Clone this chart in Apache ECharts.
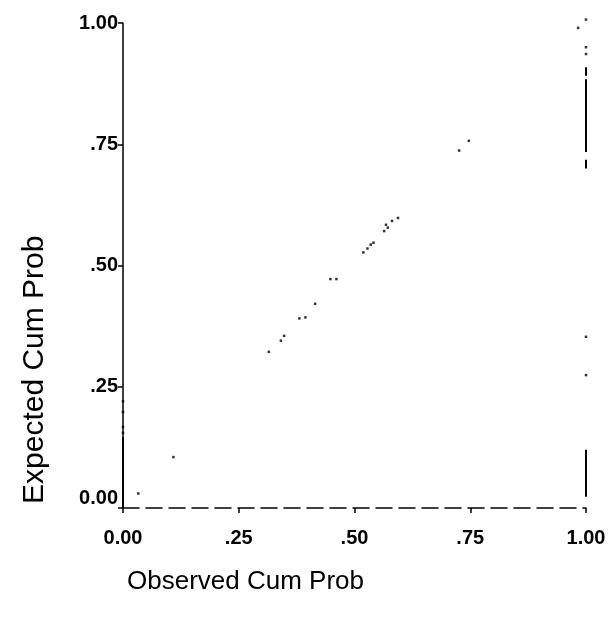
<!DOCTYPE html>
<html>
<head>
<meta charset="utf-8">
<script src="https://cdn.jsdelivr.net/npm/echarts@6/dist/echarts.min.js"></script>
<style>
html,body{margin:0;padding:0;background:#fff;}
#chart{width:611px;height:624px;}
</style>
</head>
<body>
<div id="chart"></div>
<script>
// Tick values and labels
const tickValues = [0, 0.25, 0.5, 0.75, 1];
const tickLabels = ['0.00', '.25', '.50', '.75', '1.00'];

// Observed vs expected cumulative probabilities (single points)
const diagonalPoints = [
  [0.033, 0.030], [0.109, 0.105],
  [0.315, 0.322], [0.341, 0.345], [0.348, 0.355], [0.381, 0.391], [0.394, 0.393],
  [0.415, 0.421], [0.448, 0.472], [0.461, 0.472], [0.519, 0.527], [0.528, 0.535],
  [0.535, 0.543], [0.541, 0.547], [0.564, 0.571], [0.568, 0.584], [0.572, 0.578],
  [0.581, 0.592], [0.594, 0.598], [0.726, 0.737], [0.747, 0.757]
];
const leftColumnPoints = [[0, 0.220], [0, 0.198], [0, 0.167], [0, 0.155]];
const rightColumnPoints = [[1, 1.007], [0.983, 0.990], [1, 0.950], [1, 0.936], [1, 0.353], [1, 0.274]];

// Dense runs of tied points drawn as vertical runs: [x, yFrom, yTo]
const pointRuns = [
  [0, 0.146, 0.0],
  [1, 0.909, 0.891],
  [1, 0.884, 0.734],
  [1, 0.718, 0.700],
  [1, 0.120, 0.023]
];

const FONT = 'Liberation Sans, Arial, sans-serif';
const chart = echarts.init(document.getElementById('chart'));

function fmt(v) {
  const i = tickValues.findIndex(t => Math.abs(t - v) < 1e-9);
  return i >= 0 ? tickLabels[i] : '';
}

const runSeries = pointRuns.map(r => ({
  type: 'line',
  data: [[r[0], r[1]], [r[0], r[2]]],
  symbol: 'none',
  lineStyle: { color: '#000', width: 2 },
  silent: true,
  clip: false,
  z: 3
}));

const scatterStyle = {
  type: 'scatter',
  symbol: 'rect',
  symbolSize: 2.5,
  itemStyle: { color: '#000' },
  clip: false,
  silent: true
};

chart.setOption({
  animation: false,
  backgroundColor: '#fff',
  grid: { left: 123, right: 25, top: 23, bottom: 116 },
  xAxis: {
    type: 'value', min: 0, max: 1, interval: 0.25,
    axisLine: { show: true, onZero: false, lineStyle: { color: '#000', width: 1.5, type: [16, 7] } },
    axisTick: { show: true, length: 5, lineStyle: { color: '#000', width: 1.5 } },
    axisLabel: { color: '#000', fontSize: 20, fontWeight: 'bold', fontFamily: FONT, margin: 20, formatter: fmt },
    splitLine: { show: false }
  },
  yAxis: {
    type: 'value', min: 0, max: 1, interval: 0.25,
    axisLine: { show: true, onZero: false, lineStyle: { color: '#000', width: 1.5 } },
    axisTick: { show: true, length: 5, lineStyle: { color: '#000', width: 1.5 } },
    axisLabel: {
      color: '#000', fontSize: 20, fontWeight: 'bold', fontFamily: FONT, margin: 5,
      formatter: v => (Math.abs(v) < 1e-9 ? '{z|' + fmt(v) + '}' : fmt(v)),
      rich: { z: { color: '#000', fontSize: 20, fontWeight: 'bold', fontFamily: FONT, padding: [0, 0, 20, 0] } }
    },
    splitLine: { show: false }
  },
  graphic: [
    {
      type: 'text', left: 127, top: 569,
      style: { text: 'Observed Cum Prob', fontSize: 26, fontFamily: FONT, fill: '#000' }
    },
    {
      type: 'text', x: 20, y: 504, rotation: Math.PI / 2,
      style: { text: 'Expected Cum Prob', fontSize: 30, fontFamily: FONT, fill: '#000', align: 'left', verticalAlign: 'top' }
    }
  ],
  series: [
    Object.assign({}, scatterStyle, { data: diagonalPoints }),
    Object.assign({}, scatterStyle, { data: leftColumnPoints }),
    Object.assign({}, scatterStyle, { data: rightColumnPoints })
  ].concat(runSeries)
});
</script>
</body>
</html>
